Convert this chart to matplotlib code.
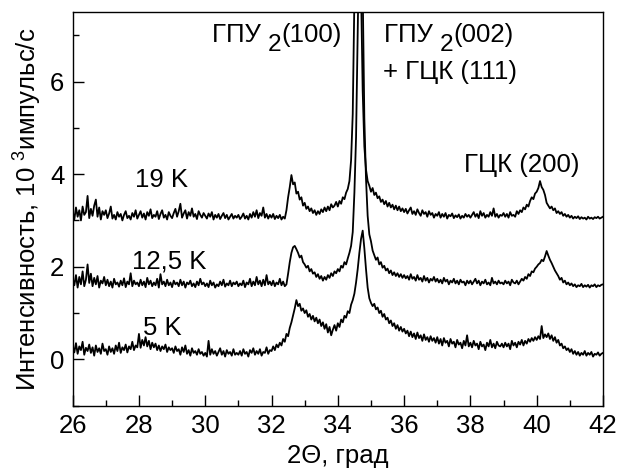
import matplotlib
matplotlib.use("Agg")
import matplotlib.pyplot as plt
from matplotlib.ticker import MultipleLocator
import numpy as np

plt.rcParams['font.family'] = ['Liberation Sans', 'DejaVu Sans']
plt.rcParams['mathtext.fontset'] = 'custom'
plt.rcParams['mathtext.rm'] = 'Liberation Sans'
plt.rcParams['mathtext.it'] = 'Liberation Sans'
plt.rcParams['mathtext.default'] = 'regular'

# 2Theta sampling, step 0.05 deg from 26 to 42
two_theta = np.round(np.arange(26.0, 42.0001, 0.05), 2)

# intensity, 10^3 counts/s (rows = one degree each)
i_19K = [
    3.20, 3.02, 3.28, 3.08, 3.22, 3.00, 3.30, 3.12, 3.18, 3.53, 3.05, 3.25, 3.10, 3.32, 3.45, 3.08, 3.28, 3.02, 3.20, 3.12,
    3.22, 3.05, 3.15, 3.30, 3.04, 3.12, 3.02, 3.18, 3.08, 3.14, 3.00, 3.12, 3.20, 3.05, 3.10, 3.02, 3.16, 3.08, 3.22, 3.04,
    3.12, 3.20, 3.06, 3.15, 3.02, 3.18, 3.10, 3.24, 3.05, 3.12, 3.08, 3.20, 3.03, 3.14, 3.22, 3.06, 3.12, 3.02, 3.18, 3.10,
    3.05, 3.16, 3.25, 3.08, 3.20, 3.36, 3.06, 3.15, 3.22, 3.04, 3.18, 3.10, 3.26, 3.08, 3.14, 3.03, 3.20, 3.12, 3.06, 3.16,
    3.10, 3.04, 3.15, 3.08, 3.18, 3.02, 3.12, 3.06, 3.14, 3.03, 3.10, 3.16, 3.05, 3.12, 3.02, 3.08, 3.14, 3.04, 3.10, 3.06,
    3.12, 3.03, 3.08, 3.15, 3.04, 3.10, 3.02, 3.14, 3.06, 3.18, 3.08, 3.22, 3.05, 3.16, 3.10, 3.28, 3.06, 3.14, 3.04, 3.12,
    3.06, 3.14, 3.03, 3.10, 3.05, 3.12, 3.02, 3.08, 3.04, 3.22, 3.50, 3.72, 3.98, 3.78, 3.82, 3.58, 3.62, 3.45, 3.50, 3.32,
    3.38, 3.25, 3.30, 3.20, 3.26, 3.16, 3.22, 3.12, 3.20, 3.14, 3.24, 3.18, 3.28, 3.20, 3.30, 3.22, 3.35, 3.28, 3.32, 3.40,
    3.30, 3.42, 3.36, 3.50, 3.46, 3.60, 3.68, 3.85, 4.30, 5.30, 7.80, 10.5, 12.0, 11.0, 8.00, 5.80, 4.60, 4.10, 3.85, 3.75,
    3.62, 3.70, 3.55, 3.60, 3.48, 3.52, 3.40, 3.45, 3.35, 3.42, 3.30, 3.38, 3.28, 3.34, 3.24, 3.32, 3.22, 3.30, 3.20, 3.26,
    3.18, 3.25, 3.15, 3.22, 3.28, 3.14, 3.20, 3.12, 3.24, 3.16, 3.10, 3.22, 3.14, 3.18, 3.08, 3.20, 3.12, 3.16, 3.06, 3.14,
    3.10, 3.18, 3.06, 3.14, 3.08, 3.16, 3.04, 3.12, 3.09, 3.15, 3.05, 3.11, 3.07, 3.13, 3.04, 3.10, 3.06, 3.14, 3.08, 3.12,
    3.06, 3.12, 3.18, 3.08, 3.14, 3.05, 3.20, 3.10, 3.16, 3.06, 3.12, 3.08, 3.18, 3.10, 3.26, 3.08, 3.14, 3.06, 3.12, 3.10,
    3.16, 3.08, 3.14, 3.06, 3.18, 3.10, 3.12, 3.08, 3.20, 3.14, 3.22, 3.18, 3.28, 3.24, 3.34, 3.30, 3.42, 3.50, 3.46, 3.58,
    3.62, 3.70, 3.85, 3.72, 3.66, 3.55, 3.38, 3.32, 3.26, 3.30, 3.22, 3.26, 3.16, 3.20, 3.14, 3.18, 3.10, 3.14, 3.08, 3.12,
    3.06, 3.10, 3.04, 3.08, 3.05, 3.09, 3.03, 3.07, 3.04, 3.06, 3.02, 3.08, 3.04, 3.06, 3.03, 3.07, 3.05, 3.08, 3.04, 3.06,
    3.08,
]

i_12K = [
    1.75, 1.60, 1.82, 1.55, 1.78, 1.62, 1.90, 1.58, 1.72, 2.05, 1.65, 1.85, 1.58, 1.76, 1.62, 1.80, 1.55, 1.70, 1.64, 1.78,
    1.60, 1.72, 1.58, 1.68, 1.55, 1.74, 1.62, 1.66, 1.57, 1.70, 1.60, 1.75, 1.56, 1.68, 1.62, 1.86, 1.58, 1.70, 1.62, 1.66,
    1.58, 1.72, 1.60, 1.68, 1.56, 1.76, 1.62, 1.70, 1.58, 1.66, 1.60, 1.74, 1.55, 1.84, 1.62, 1.68, 1.58, 1.72, 1.60, 1.66,
    1.56, 1.70, 1.62, 1.66, 1.58, 1.72, 1.60, 1.68, 1.55, 1.66, 1.62, 1.70, 1.58, 1.64, 1.56, 1.68, 1.60, 1.74, 1.62, 1.66,
    1.58, 1.64, 1.56, 1.70, 1.60, 1.66, 1.55, 1.62, 1.58, 1.68, 1.60, 1.72, 1.57, 1.64, 1.60, 1.70, 1.58, 1.66, 1.62, 1.68,
    1.58, 1.64, 1.60, 1.70, 1.56, 1.66, 1.62, 1.74, 1.58, 1.68, 1.60, 1.78, 1.62, 1.70, 1.58, 1.72, 1.60, 1.82, 1.62, 1.68,
    1.60, 1.70, 1.58, 1.66, 1.62, 1.74, 1.60, 1.68, 1.58, 1.62, 1.85, 2.10, 2.30, 2.42, 2.45, 2.38, 2.30, 2.20, 2.24, 2.10,
    2.05, 1.98, 2.02, 1.90, 1.95, 1.85, 1.88, 1.78, 1.84, 1.74, 1.80, 1.70, 1.78, 1.72, 1.82, 1.76, 1.86, 1.80, 1.90, 1.86,
    1.95, 1.90, 2.02, 1.98, 2.10, 2.05, 2.18, 2.30, 2.45, 2.75, 3.60, 4.80, 7.00, 9.50, 10.0, 8.00, 5.20, 3.90, 3.10, 2.70,
    2.55, 2.35, 2.25, 2.15, 2.20, 2.05, 2.10, 1.98, 2.02, 1.92, 1.96, 1.86, 1.92, 1.82, 1.88, 1.80, 1.86, 1.78, 1.84, 1.76,
    1.82, 1.75, 1.80, 1.72, 1.84, 1.74, 1.78, 1.70, 1.82, 1.72, 1.76, 1.68, 1.80, 1.70, 1.76, 1.66, 1.74, 1.70, 1.78, 1.68,
    1.74, 1.66, 1.72, 1.64, 1.76, 1.68, 1.72, 1.62, 1.70, 1.66, 1.74, 1.64, 1.70, 1.62, 1.72, 1.66, 1.68, 1.60, 1.70, 1.64,
    1.70, 1.62, 1.68, 1.74, 1.64, 1.70, 1.60, 1.68, 1.64, 1.72, 1.62, 1.66, 1.60, 1.76, 1.64, 1.68, 1.62, 1.70, 1.64, 1.66,
    1.62, 1.70, 1.64, 1.68, 1.60, 1.72, 1.66, 1.64, 1.70, 1.62, 1.68, 1.74, 1.70, 1.78, 1.74, 1.84, 1.80, 1.90, 1.88, 1.96,
    2.00, 2.05, 2.08, 2.15, 2.12, 2.22, 2.34, 2.24, 2.15, 2.08, 2.00, 1.92, 1.86, 1.80, 1.72, 1.76, 1.66, 1.70, 1.62, 1.66,
    1.60, 1.64, 1.58, 1.62, 1.56, 1.60, 1.58, 1.63, 1.56, 1.60, 1.57, 1.61, 1.55, 1.60, 1.58, 1.62, 1.56, 1.60, 1.58, 1.61,
    1.62,
]

i_5K = [
    0.30, 0.15, 0.35, 0.12, 0.28, 0.20, 0.38, 0.10, 0.25, 0.18, 0.32, 0.14, 0.26, 0.08, 0.30, 0.16, 0.24, 0.12, 0.34, 0.18,
    0.22, 0.10, 0.28, 0.16, 0.24, 0.12, 0.30, 0.18, 0.36, 0.14, 0.26, 0.20, 0.32, 0.15, 0.28, 0.22, 0.38, 0.20, 0.30, 0.26,
    0.55, 0.25, 0.42, 0.30, 0.48, 0.28, 0.40, 0.22, 0.36, 0.26, 0.34, 0.20, 0.30, 0.18, 0.28, 0.22, 0.32, 0.16, 0.26, 0.20,
    0.24, 0.14, 0.28, 0.18, 0.22, 0.10, 0.26, 0.16, 0.30, 0.12, 0.20, 0.08, 0.24, 0.14, 0.18, 0.10, 0.22, 0.12, 0.16, 0.08,
    0.14, 0.06, 0.40, 0.10, 0.22, 0.12, 0.18, 0.08, 0.16, 0.24, 0.10, 0.18, 0.06, 0.20, 0.12, 0.16, 0.08, 0.22, 0.10, 0.14,
    0.10, 0.18, 0.08, 0.22, 0.12, 0.16, 0.06, 0.20, 0.14, 0.24, 0.10, 0.18, 0.12, 0.22, 0.08, 0.16, 0.14, 0.26, 0.12, 0.20,
    0.18, 0.28, 0.20, 0.32, 0.26, 0.36, 0.30, 0.44, 0.38, 0.55, 0.50, 0.68, 0.80, 0.95, 1.10, 1.28, 1.15, 1.20, 1.05, 1.10,
    1.00, 1.06, 0.92, 0.98, 0.86, 0.94, 0.82, 0.90, 0.78, 0.86, 0.72, 0.80, 0.66, 0.76, 0.58, 0.70, 0.52, 0.64, 0.74, 0.62,
    0.78, 0.70, 0.86, 0.80, 0.94, 0.90, 1.04, 1.00, 1.18, 1.28, 1.42, 1.66, 1.95, 2.30, 2.60, 2.78, 2.40, 1.95, 1.55, 1.32,
    1.22, 1.15, 1.20, 1.08, 1.12, 1.00, 1.05, 0.92, 0.98, 0.86, 0.90, 0.78, 0.84, 0.72, 0.78, 0.66, 0.74, 0.62, 0.70, 0.60,
    0.66, 0.56, 0.62, 0.50, 0.60, 0.48, 0.56, 0.44, 0.58, 0.46, 0.52, 0.40, 0.54, 0.42, 0.48, 0.38, 0.50, 0.40, 0.46, 0.36,
    0.48, 0.34, 0.44, 0.30, 0.46, 0.36, 0.40, 0.28, 0.44, 0.34, 0.38, 0.26, 0.42, 0.32, 0.36, 0.24, 0.40, 0.30, 0.52, 0.28,
    0.36, 0.26, 0.40, 0.30, 0.34, 0.22, 0.38, 0.28, 0.32, 0.20, 0.36, 0.28, 0.42, 0.26, 0.34, 0.24, 0.38, 0.30, 0.28, 0.34,
    0.26, 0.36, 0.28, 0.34, 0.22, 0.40, 0.30, 0.36, 0.26, 0.38, 0.32, 0.42, 0.30, 0.40, 0.34, 0.44, 0.38, 0.46, 0.40, 0.48,
    0.42, 0.50, 0.44, 0.72, 0.46, 0.54, 0.48, 0.56, 0.44, 0.52, 0.40, 0.48, 0.36, 0.42, 0.30, 0.34, 0.24, 0.28, 0.20, 0.24,
    0.16, 0.22, 0.12, 0.18, 0.10, 0.16, 0.08, 0.14, 0.10, 0.18, 0.08, 0.14, 0.10, 0.16, 0.06, 0.12, 0.10, 0.15, 0.08, 0.12,
    0.14,
]

fs = 18.5


def phase_label(ax, x, y, head, index, tail):
    # "ГПУ 2(100)" style label: the index is drawn full size and lowered
    t1 = ax.text(x, y, head, fontsize=fs)
    t2 = ax.annotate(index, xy=(1, 0), xycoords=t1, xytext=(0, -6.5),
                     textcoords='offset points', fontsize=fs * 0.95,
                     ha='left', va='bottom')
    ax.annotate(tail, xy=(1, 0), xycoords=(t2, t1), fontsize=fs,
                ha='left', va='bottom')


fig = plt.figure(figsize=(6.21, 4.72), dpi=100)
ax = fig.add_axes([0.117, 0.1405, 0.854, 0.834])

for curve in (i_5K, i_12K, i_19K):
    ax.plot(two_theta, curve, color='black', lw=1.3)

ax.set_xlim(26, 42)
ax.set_ylim(-1, 7.5)
ax.xaxis.set_major_locator(MultipleLocator(2))
ax.xaxis.set_minor_locator(MultipleLocator(1))
ax.yaxis.set_major_locator(MultipleLocator(2))
ax.yaxis.set_minor_locator(MultipleLocator(1))
ax.tick_params(which='both', direction='in', top=False, right=False, labelsize=fs)
ax.tick_params(which='major', length=8, width=1, pad=6)
ax.tick_params(which='minor', length=4.5, width=1)
for s in ax.spines.values():
    s.set_linewidth(1.0)

ax.set_xlabel('2Θ, град', fontsize=fs, labelpad=4)
ax.set_ylabel('Интенсивность, 10 $^{3}$импульс/с', fontsize=fs, labelpad=4)

# curve labels
ax.text(27.88, 3.72, '19 K', fontsize=fs)
ax.text(27.8, 1.97, '12,5 K', fontsize=fs)
ax.text(28.13, 0.52, '5 K', fontsize=fs)

# peak labels
phase_label(ax, 30.2, 6.85, 'ГПУ ', '2', '(100)')
phase_label(ax, 35.4, 6.85, 'ГПУ ', '2', '(002)')
ax.text(35.35, 6.05, '+ ГЦК (111)', fontsize=fs)
ax.text(37.8, 4.04, 'ГЦК (200)', fontsize=fs)

fig.savefig('out.png', dpi=100)
